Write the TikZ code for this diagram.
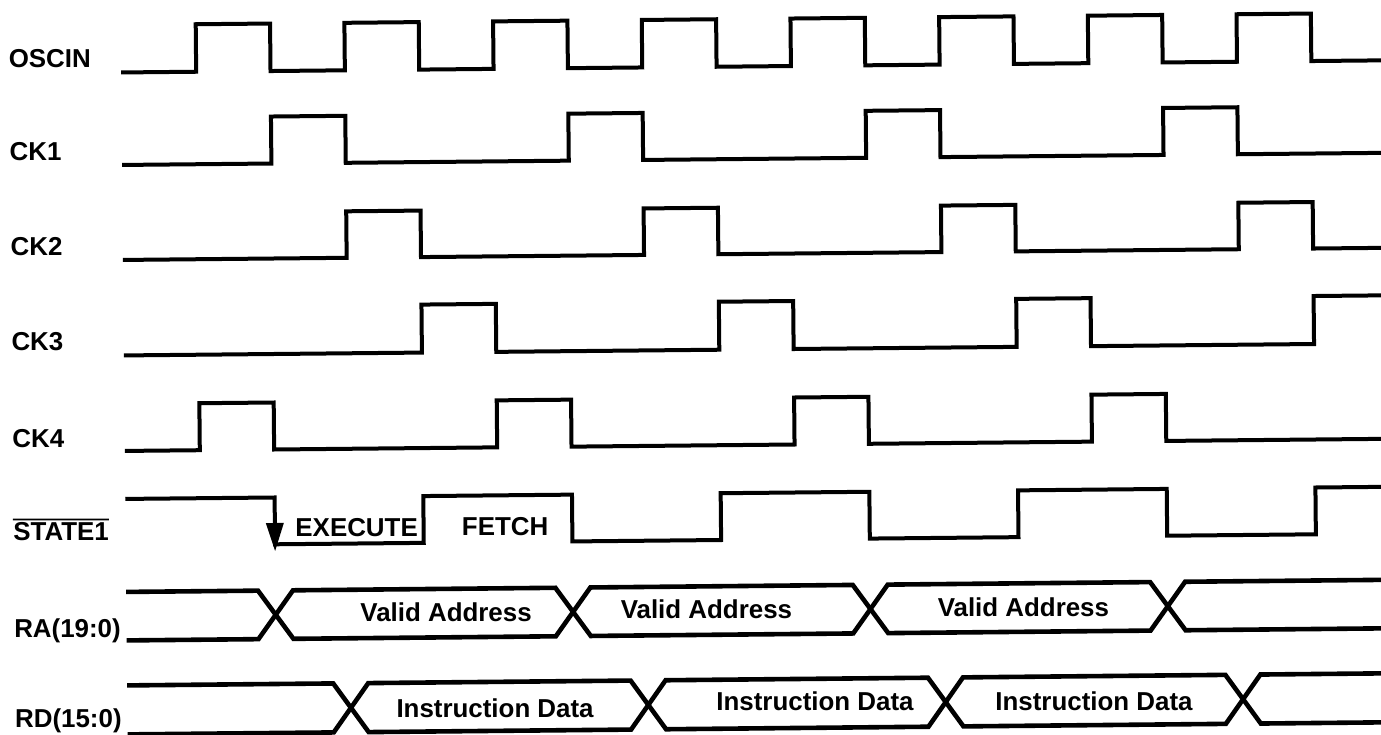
\documentclass[tikz,border=0pt]{standalone}
\usepackage{fontspec}
\setmainfont{Liberation Sans}
\begin{document}
\begin{tikzpicture}[x=1pt,y=-1pt,
  declare function={E(\k)=199+74.35*\k;},
  wave/.style={line width=4pt, line join=miter},
  bus/.style={line width=4.6pt, line join=miter},
  lbl/.style={font=\fontsize{25.9}{30}\selectfont\bfseries, inner sep=0pt, anchor=base west},
  txt/.style={font=\fontsize{25.9}{30}\selectfont\bfseries, inner sep=0pt, anchor=base}]
\useasboundingbox (0,0) rectangle (1381,734);
\fill[white] (0,0) rectangle (1381,734);
\clip (0,0) rectangle (1381,734);
\def\xs{124}
\def\xe{1395}
\def\d{17.5}
\begin{scope}[rotate around={0.55:(690,367)}]
% labels
\node[lbl] (lOSCIN) at (11.5,60.6) {OSCIN};
\node[lbl] (lCK1) at (11.5,153.9) {CK1};
\node[lbl] (lCK2) at (11.5,248.8) {CK2};
\node[lbl] (lCK3) at (11.5,343.8) {CK3};
\node[lbl] (lCK4) at (11.5,440.8) {CK4};
\node[lbl] (lSTATE) at (11.5,533.8) {STATE1};
\draw[line width=1.8pt] ([yshift=20.8pt]lSTATE.base west) -- ([yshift=20.8pt]lSTATE.base east);
\node[lbl] (lRA) at (11.5,630.6) {RA(19:0)};
\node[lbl] (lRD) at (11.5,721.5) {RD(15:0)};
% OSCIN
\draw[wave] (\xs,67) -| ({E(0)},19.5) -| ({E(1)},67) -| ({E(2)},19.5) -| ({E(3)},67)
  -| ({E(4)},19.5) -| ({E(5)},67) -| ({E(6)},19.5) -| ({E(7)},67)
  -| ({E(8)},19.5) -| ({E(9)},67) -| ({E(10)},19.5) -| ({E(11)},67)
  -| ({E(12)},19.5) -| ({E(13)},67) -| ({E(14)},19.5) -| ({E(15)},67) -- (\xe,67);
% CK1
\draw[wave] (\xs,159.5) -| ({E(1)},112.5) -| ({E(2)},159.5) -| ({E(5)},112.5) -| ({E(6)},159.5)
  -| ({E(9)},112.5) -| ({E(10)},159.5) -| ({E(13)},112.5) -| ({E(14)},159.5) -- (\xe,159.5);
% CK2
\draw[wave] (\xs,254.5) -| ({E(2)},208) -| ({E(3)},254.5) -| ({E(6)},208) -| ({E(7)},254.5)
  -| ({E(10)},208) -| ({E(11)},254.5) -| ({E(14)},208) -| ({E(15)},254.5) -- (\xe,254.5);
% CK3
\draw[wave] (\xs,350) -| ({E(3)},302) -| ({E(4)},350) -| ({E(7)},302) -| ({E(8)},350)
  -| ({E(11)},302) -| ({E(12)},350) -| ({E(15)},302) -- (\xe,302);
% CK4
\draw[wave] (\xs,445.5) -| ({E(0)},398.5) -| ({E(1)},445.5) -| ({E(4)},398.5) -| ({E(5)},445.5)
  -| ({E(8)},398.5) -| ({E(9)},445.5) -| ({E(12)},398.5) -| ({E(13)},445.5) -- (\xe,445.5);
% STATE1
\draw[wave] (\xs,493.5) -| ({E(1)},540.3) -| ({E(3)},493.5) -| ({E(5)},540.3) -| ({E(7)},493.5)
  -| ({E(9)},540.3) -| ({E(11)},493.5) -| ({E(13)},540.3) -| ({E(15)},493.5) -- (\xe,493.5);
\fill ({E(1)-9},519) -- ({E(1)+9},519) -- ({E(1)},547) -- cycle;
\node[txt] (tEXEC) at (355,533.5) {EXECUTE};
\node[txt] (tFETCH) at (503.5,533.3) {FETCH};
% RA bus
\draw[bus] (\xs,586.5) -- ({E(1)-\d},586.5) -- ({E(1)+\d},635) -- ({E(5)-\d},635) -- ({E(5)+\d},586.5)
  -- ({E(9)-\d},586.5) -- ({E(9)+\d},635) -- ({E(13)-\d},635) -- ({E(13)+\d},586.5) -- (\xe,586.5);
\draw[bus] (\xs,635) -- ({E(1)-\d},635) -- ({E(1)+\d},586.5) -- ({E(5)-\d},586.5) -- ({E(5)+\d},635)
  -- ({E(9)-\d},635) -- ({E(9)+\d},586.5) -- ({E(13)-\d},586.5) -- ({E(13)+\d},635) -- (\xe,635);
\node[txt] (tVA1) at (443.6,619.5) {Valid Address};
\node[txt] (tVA2) at (704,618.8) {Valid Address};
\node[txt] (tVA3) at (1021,619.7) {Valid Address};
% RD bus
\draw[bus] (\xs,680) -- ({E(2)-\d},680) -- ({E(2)+\d},729) -- ({E(6)-\d},729) -- ({E(6)+\d},680)
  -- ({E(10)-\d},680) -- ({E(10)+\d},729) -- ({E(14)-\d},729) -- ({E(14)+\d},680) -- (\xe,680);
\draw[bus] (\xs,729) -- ({E(2)-\d},729) -- ({E(2)+\d},680) -- ({E(6)-\d},680) -- ({E(6)+\d},729)
  -- ({E(10)-\d},729) -- ({E(10)+\d},680) -- ({E(14)-\d},680) -- ({E(14)+\d},729) -- (\xe,729);
\node[txt] (tID1) at (491.7,716) {Instruction Data};
\node[txt] (tID2) at (811.7,711.5) {Instruction Data};
\node[txt] (tID3) at (1090.7,714) {Instruction Data};
\end{scope}
\end{tikzpicture}
\end{document}
